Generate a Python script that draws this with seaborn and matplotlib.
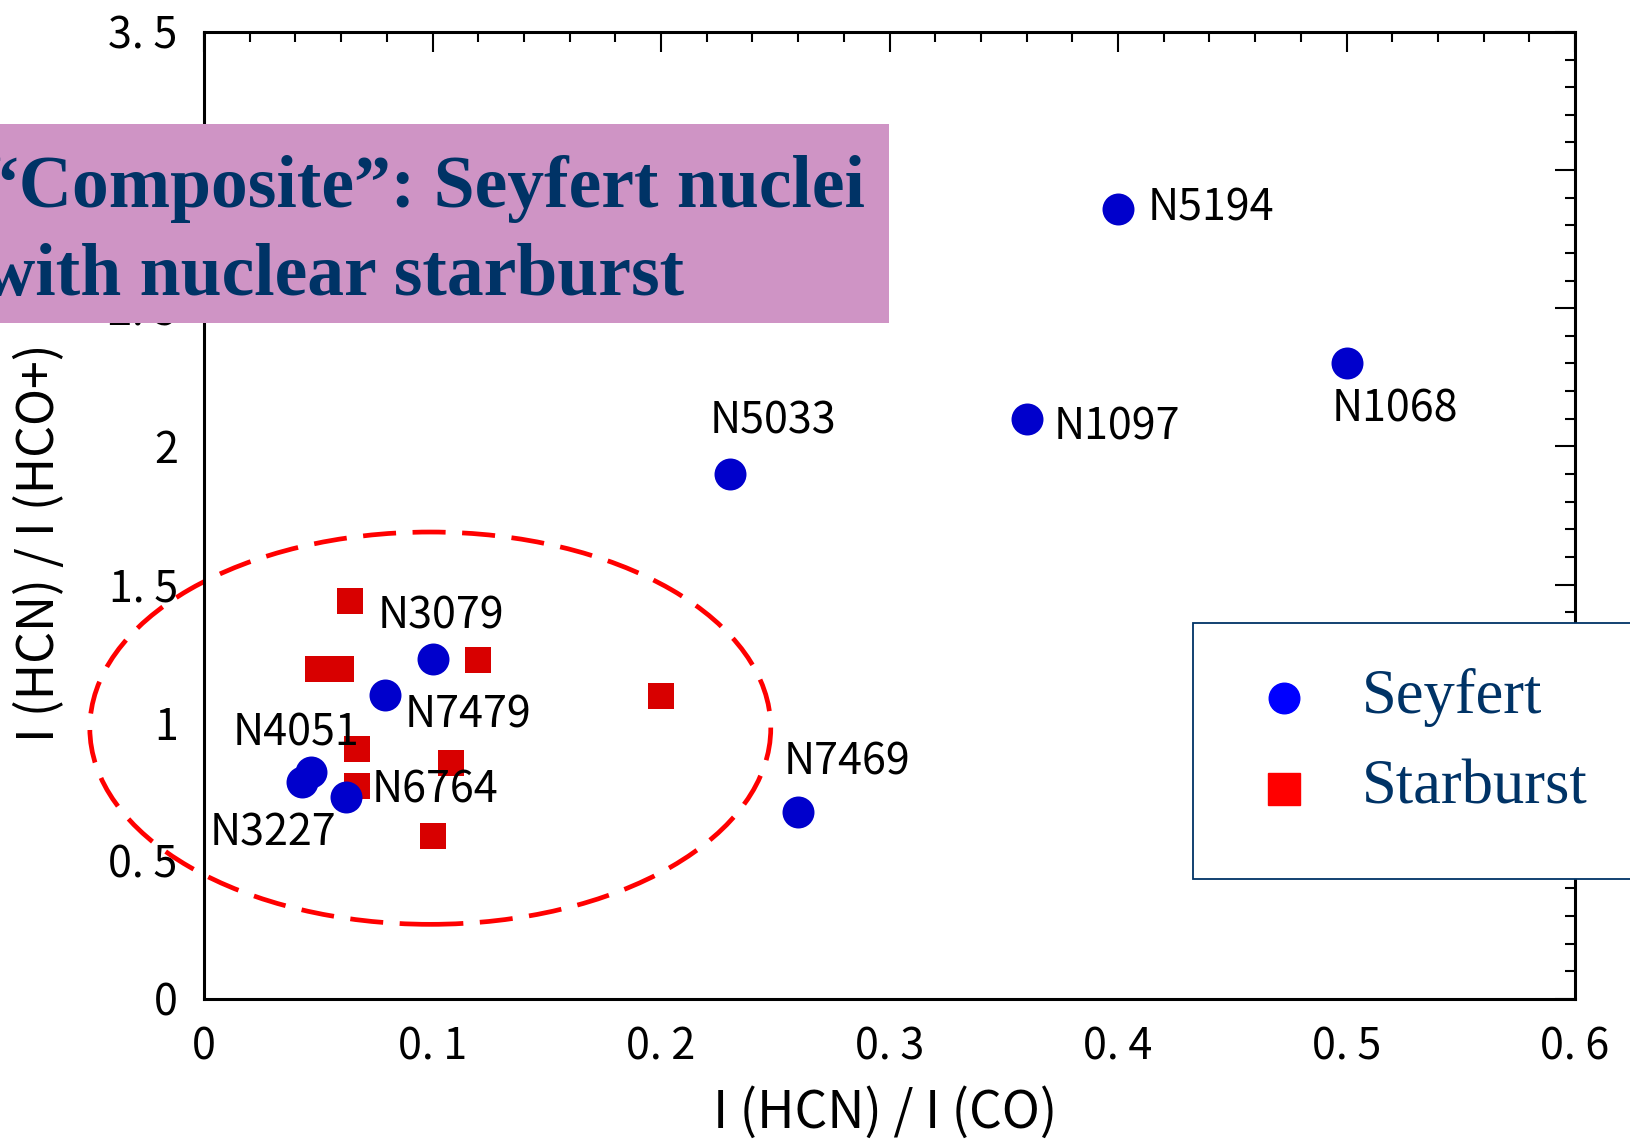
import matplotlib
matplotlib.use("Agg")
import pandas as pd
import matplotlib.pyplot as plt
import seaborn as sns
from matplotlib.patches import Ellipse, Rectangle
from matplotlib.lines import Line2D
from matplotlib.ticker import MultipleLocator

# Seyfert nuclei
seyfert_names = ["N5194", "N1068", "N1097", "N5033", "N7469",
                 "N3079", "N7479", "N4051", "N3227", "N6764"]
seyfert_x = [0.400, 0.500, 0.360, 0.230, 0.260, 0.100, 0.079, 0.047, 0.043, 0.062]
seyfert_y = [2.86, 2.30, 2.10, 1.90, 0.675, 1.23, 1.10, 0.82, 0.785, 0.73]

# Starburst galaxies
starburst_x = [0.064, 0.050, 0.060, 0.120, 0.200, 0.067, 0.108, 0.067, 0.100]
starburst_y = [1.44, 1.195, 1.195, 1.225, 1.095, 0.905, 0.855, 0.77, 0.59]

x_ticks = [0, 0.1, 0.2, 0.3, 0.4, 0.5, 0.6]
x_tick_labels = ["0", "0. 1", "0. 2", "0. 3", "0. 4", "0. 5", "0. 6"]
y_ticks = [0, 0.5, 1, 1.5, 2, 2.5, 3, 3.5]
y_tick_labels = ["0", "0. 5", "1", "1. 5", "2", "2. 5", "3", "3. 5"]

# label offsets in points relative to each Seyfert point
label_offsets = {
    "N5194": (67, 0), "N1068": (35, -33), "N1097": (65, -6),
    "N5033": (31, 38), "N7469": (35, 36), "N3079": (6, 31),
    "N7479": (60, -15), "N4051": (-11, 28), "N3227": (-21, -37),
    "N6764": (64, 5),
}

seyfert = pd.DataFrame({"name": seyfert_names, "x": seyfert_x, "y": seyfert_y})
starburst = pd.DataFrame({"x": starburst_x, "y": starburst_y})

sns.set_style("white")
plt.rcParams["font.family"] = ["Noto Sans CJK JP", "DejaVu Sans"]

navy = "#003366"

fig = plt.figure(figsize=(16.3, 11.41), dpi=100)
ax = fig.add_axes([0.1252, 0.1245, 0.8411, 0.8475])

sns.scatterplot(data=starburst, x="x", y="y", marker="s", s=360,
                color="#d80000", linewidth=0, ax=ax, zorder=3)
sns.scatterplot(data=seyfert, x="x", y="y", marker="o", s=530,
                color="#0000cc", linewidth=0, ax=ax, zorder=4)

for _, row in seyfert.iterrows():
    ax.annotate(row["name"], (row["x"], row["y"]),
                xytext=label_offsets[row["name"]], textcoords="offset points",
                ha="center", va="center", fontsize=31, color="black", zorder=5)

# dashed outline of the composite region
ax.add_patch(Ellipse((0.099, 0.98), 0.298, 1.42, fill=False, edgecolor="#ff0000",
                     linewidth=3.4, linestyle=(0, (7, 3.5)), clip_on=False, zorder=2))

ax.set_xlim(0, 0.6)
ax.set_ylim(0, 3.5)
ax.set_xticks(x_ticks)
ax.set_xticklabels(x_tick_labels)
ax.set_yticks(y_ticks)
ax.set_yticklabels(y_tick_labels)
ax.xaxis.set_minor_locator(MultipleLocator(0.02))
ax.yaxis.set_minor_locator(MultipleLocator(0.1))
ax.tick_params(which="both", direction="in", top=True, right=True,
               width=1.5, colors="black", labelsize=31)
ax.tick_params(which="major", length=14.5, pad=19)
ax.tick_params(which="minor", length=7.2)
for sp in ax.spines.values():
    sp.set_linewidth(2.2)
    sp.set_color("black")

ax.set_xlabel("I (HCN) / I (CO)", fontsize=37, color="black")
ax.set_ylabel("I (HCN) / I (HCO+)", fontsize=36, color="black")
ax.xaxis.set_label_coords(0.497, -0.118)
ax.xaxis.label.set_va("center")
ax.yaxis.set_label_coords(-0.12, 0.472)
ax.yaxis.label.set_va("center")

# "Composite" banner
fig.add_artist(Rectangle((0, 0.7169), 0.5454, 0.1744, transform=fig.transFigure,
                         facecolor="#cf94c5", edgecolor="none", zorder=5))
banner_font = dict(family="Liberation Serif", fontweight="bold", fontsize=53,
                   color=navy, ha="left", va="baseline", zorder=6)
fig.text(-0.011, 0.8186, "\u201cComposite\u201d: Seyfert nuclei", **banner_font)
fig.text(-0.011, 0.7415, "with nuclear starburst", **banner_font)

# legend box
fig.add_artist(Rectangle((0.7319, 0.2296), 0.28, 0.2244, transform=fig.transFigure,
                         facecolor="white", edgecolor=navy, linewidth=1.3, zorder=5))
fig.add_artist(Line2D([0.7877], [0.3883], transform=fig.transFigure, marker="o",
                      markersize=22, color="#0000ff", linestyle="none", zorder=6))
fig.add_artist(Line2D([0.7877], [0.3085], transform=fig.transFigure, marker="s",
                      markersize=23, color="#ff0000", linestyle="none", zorder=6))
legend_font = dict(family="Liberation Serif", fontsize=45, color=navy,
                   ha="left", va="baseline", zorder=6)
fig.text(0.8356, 0.3751, "Seyfert", **legend_font)
fig.text(0.8356, 0.2962, "Starburst", **legend_font)

fig.savefig("out.png", dpi=100)
